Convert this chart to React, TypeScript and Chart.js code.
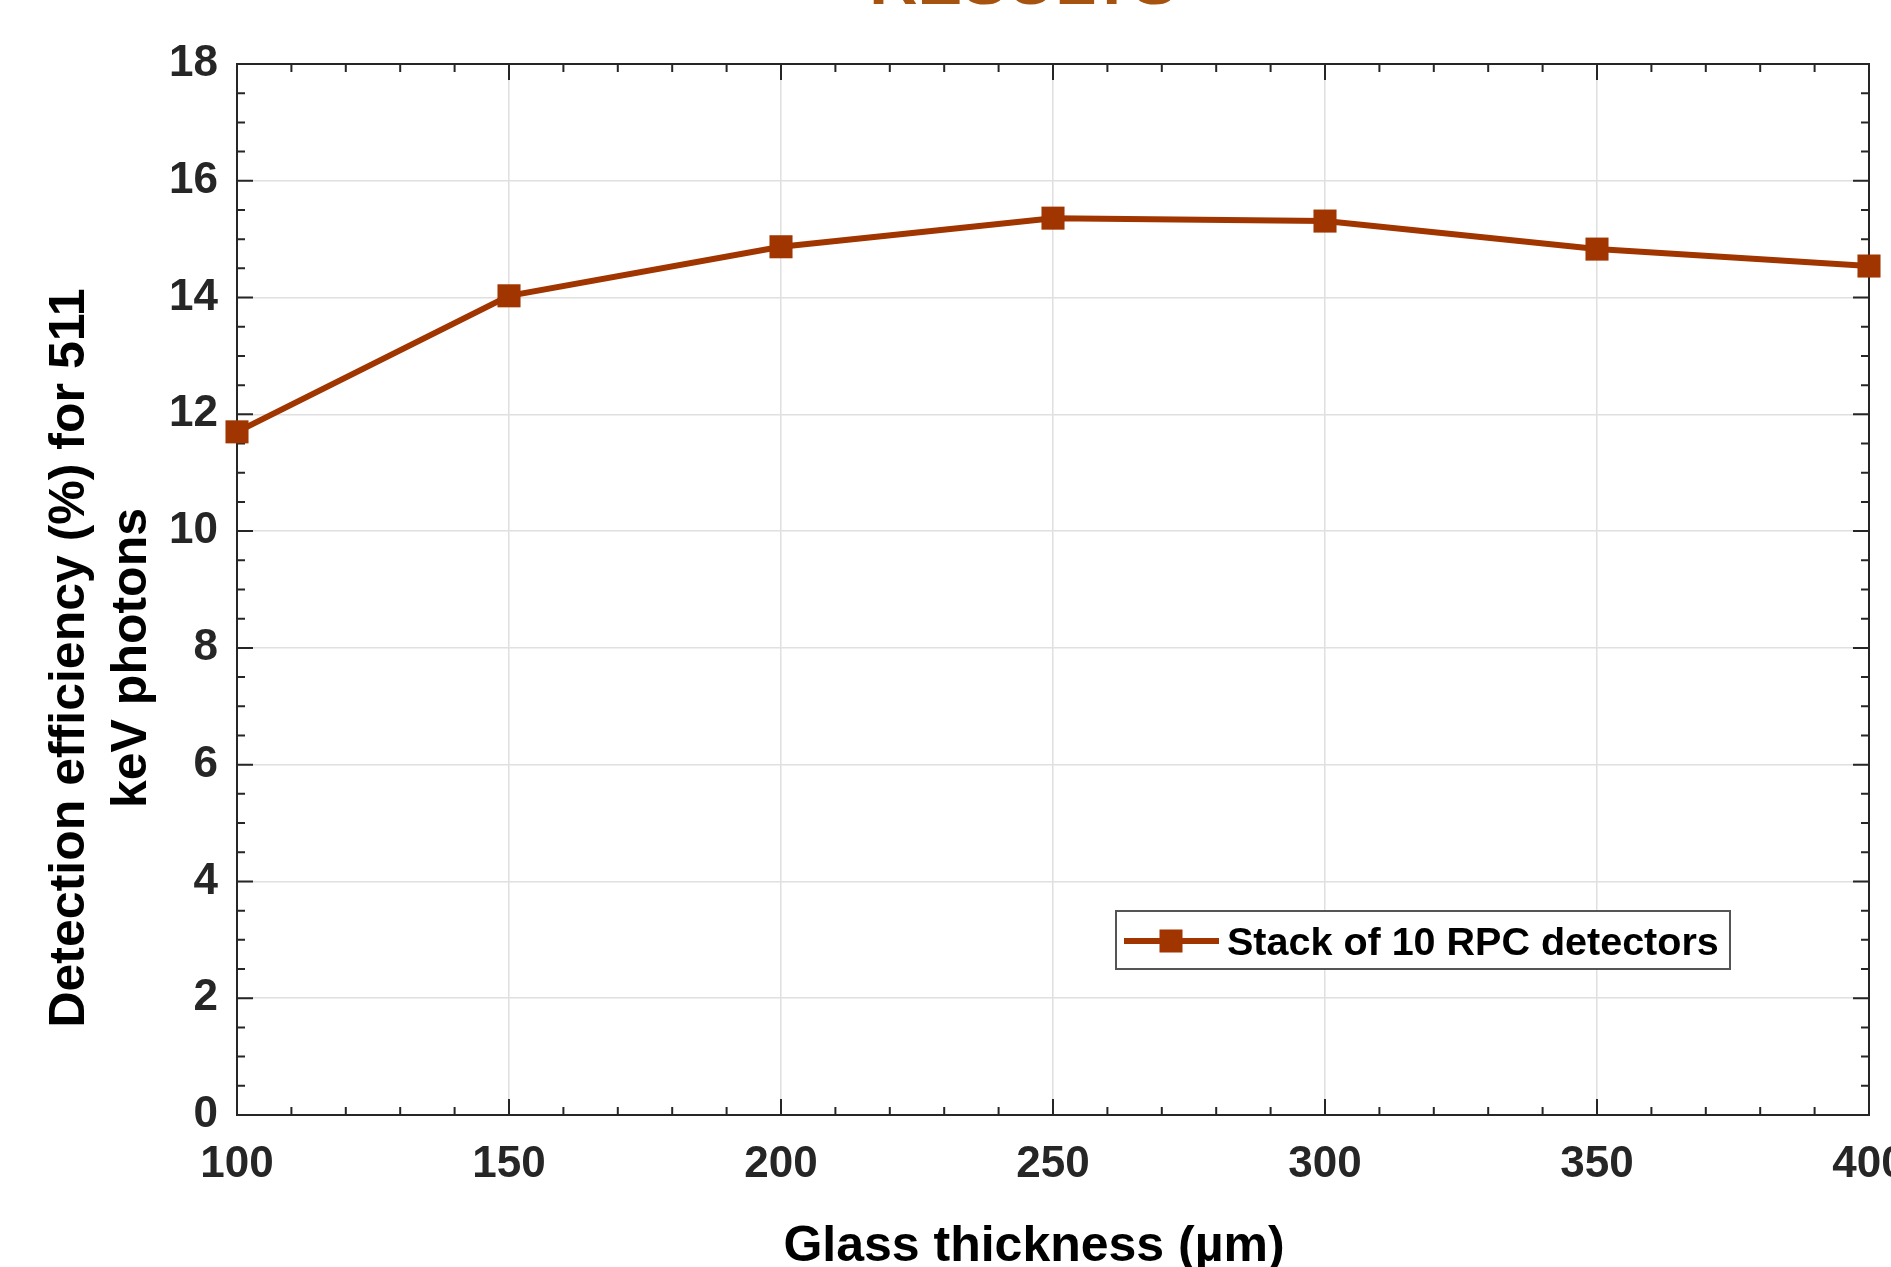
import React, { useEffect, useRef } from 'react';
import { Chart, registerables } from 'chart.js';

Chart.register(...registerables);

// ---- data ----
const glassThickness = [100, 150, 200, 250, 300, 350, 400];
const efficiency = [11.7, 14.03, 14.87, 15.36, 15.31, 14.83, 14.54];
const seriesLabel = 'Stack of 10 RPC detectors';
const chartTitle = 'RESULTS';
const xTitle = 'Glass thickness (µm)';
const yTitleLines = ['Detection efficiency (%) for 511', 'keV photons'];
const xRange = [100, 400];
const yRange = [0, 18];
const xMajorStep = 50;
const xMinorStep = 10;
const yMajorStep = 2;
const yMinorStep = 0.5;

// ---- style ----
const FONT = '"Liberation Sans", Arial, Helvetica, sans-serif';
const SERIES_COLOR = '#A13500';
const AXIS_COLOR = '#262626';
const GRID_COLOR = '#e0e0e0';
const TITLE_COLOR = '#A5530F';

const framePlugin = {
  id: 'frame',
  beforeDatasetsDraw(chart: any) {
    const { ctx, chartArea: a, scales } = chart;
    const x = scales.x;
    const y = scales.y;
    ctx.save();
    ctx.strokeStyle = AXIS_COLOR;
    ctx.lineWidth = 2;
    ctx.beginPath();
    // x ticks (bottom & top), inward
    for (let v = xRange[0]; v <= xRange[1] + 1e-9; v += xMinorStep) {
      const px = x.getPixelForValue(v);
      const major = Math.abs(v / xMajorStep - Math.round(v / xMajorStep)) < 1e-6;
      const len = major ? 16 : 8;
      ctx.moveTo(px, a.bottom);
      ctx.lineTo(px, a.bottom - len);
      ctx.moveTo(px, a.top);
      ctx.lineTo(px, a.top + len);
    }
    for (let v = yRange[0]; v <= yRange[1] + 1e-9; v += yMinorStep) {
      const py = y.getPixelForValue(v);
      const major = Math.abs(v / yMajorStep - Math.round(v / yMajorStep)) < 1e-6;
      const len = major ? 16 : 8;
      ctx.moveTo(a.left, py);
      ctx.lineTo(a.left + len, py);
      ctx.moveTo(a.right, py);
      ctx.lineTo(a.right - len, py);
    }
    ctx.stroke();
    ctx.lineWidth = 2;
    ctx.strokeRect(a.left, a.top, a.right - a.left, a.bottom - a.top);
    ctx.restore();
  },
  afterDraw(chart: any) {
    const { ctx } = chart;
    ctx.save();
    // title (cut off at top)
    ctx.fillStyle = TITLE_COLOR;
    ctx.font = `bold 67px ${FONT}`;
    ctx.textAlign = 'center';
    ctx.textBaseline = 'alphabetic';
    ctx.fillText(chartTitle, 1023, 4);

    // x axis title
    ctx.fillStyle = '#000000';
    ctx.font = `bold 50px ${FONT}`;
    ctx.fillText(xTitle, 1034, 1261);

    // y axis title (two lines, rotated)
    const baselines = [84, 146];
    yTitleLines.forEach((line, i) => {
      ctx.save();
      ctx.translate(baselines[i], 658);
      ctx.rotate(-Math.PI / 2);
      ctx.fillText(line, 0, 0);
      ctx.restore();
    });

    // legend
    const lx = 1116, ly = 911, lw = 614, lh = 58;
    ctx.fillStyle = '#ffffff';
    ctx.fillRect(lx, ly, lw, lh);
    ctx.strokeStyle = '#555555';
    ctx.lineWidth = 2;
    ctx.strokeRect(lx, ly, lw, lh);
    const cy = 941;
    ctx.strokeStyle = SERIES_COLOR;
    ctx.lineWidth = 6;
    ctx.beginPath();
    ctx.moveTo(1124, cy);
    ctx.lineTo(1219, cy);
    ctx.stroke();
    ctx.fillStyle = SERIES_COLOR;
    ctx.fillRect(1171 - 11.5, cy - 11.5, 23, 23);
    ctx.fillStyle = '#000000';
    ctx.font = `bold 39.5px ${FONT}`;
    ctx.textAlign = 'left';
    ctx.fillText(seriesLabel, 1227, 955);
    ctx.restore();
  },
};

export default function App() {
  const ref = useRef<HTMLCanvasElement | null>(null);
  useEffect(() => {
    document.body.style.margin = '0';
    document.body.style.overflow = 'hidden';
    const canvas = ref.current;
    if (!canvas) return;
    const chart = new Chart(canvas, {
      type: 'line',
      data: {
        datasets: [
          {
            label: seriesLabel,
            data: glassThickness.map((t, i) => ({ x: t, y: efficiency[i] })),
            borderColor: SERIES_COLOR,
            backgroundColor: SERIES_COLOR,
            borderWidth: 6,
            pointStyle: 'rect',
            pointRadius: 16.3,
            pointHoverRadius: 16.3,
            pointBorderWidth: 0,
            pointBackgroundColor: SERIES_COLOR,
            tension: 0,
            clip: false as any,
          },
        ],
      },
      plugins: [framePlugin],
      options: {
        animation: false,
        responsive: false,
        events: [],
        layout: { padding: { top: 64, right: 22, left: 0, bottom: 0 } },
        plugins: {
          legend: { display: false },
          title: { display: false },
          tooltip: { enabled: false },
        },
        scales: {
          x: {
            type: 'linear',
            min: xRange[0],
            max: xRange[1],
            border: { display: false },
            grid: { color: GRID_COLOR, lineWidth: 1.5, drawTicks: false },
            ticks: {
              stepSize: xMajorStep,
              color: AXIS_COLOR,
              font: { family: FONT, size: 44, weight: 'bold' },
              padding: 23,
              maxRotation: 0,
              autoSkip: false,
            },
            afterFit: (s: any) => {
              s.height = 152;
              s.paddingLeft = 0;
              s.paddingRight = 0;
            },
          },
          y: {
            type: 'linear',
            min: yRange[0],
            max: yRange[1],
            border: { display: false },
            grid: { color: GRID_COLOR, lineWidth: 1.5, drawTicks: false },
            ticks: {
              stepSize: yMajorStep,
              color: AXIS_COLOR,
              font: { family: FONT, size: 44, weight: 'bold' },
              padding: 19,
              autoSkip: false,
            },
            afterFit: (s: any) => {
              s.width = 237;
              s.paddingTop = 0;
              s.paddingBottom = 0;
            },
          },
        },
      } as any,
    });
    return () => chart.destroy();
  }, []);
  return (
    <div style={{ position: 'absolute', left: 0, top: 0, width: 1891, height: 1267, background: '#ffffff' }}>
      <canvas ref={ref} width={1891} height={1267} style={{ display: 'block' }} />
    </div>
  );
}
